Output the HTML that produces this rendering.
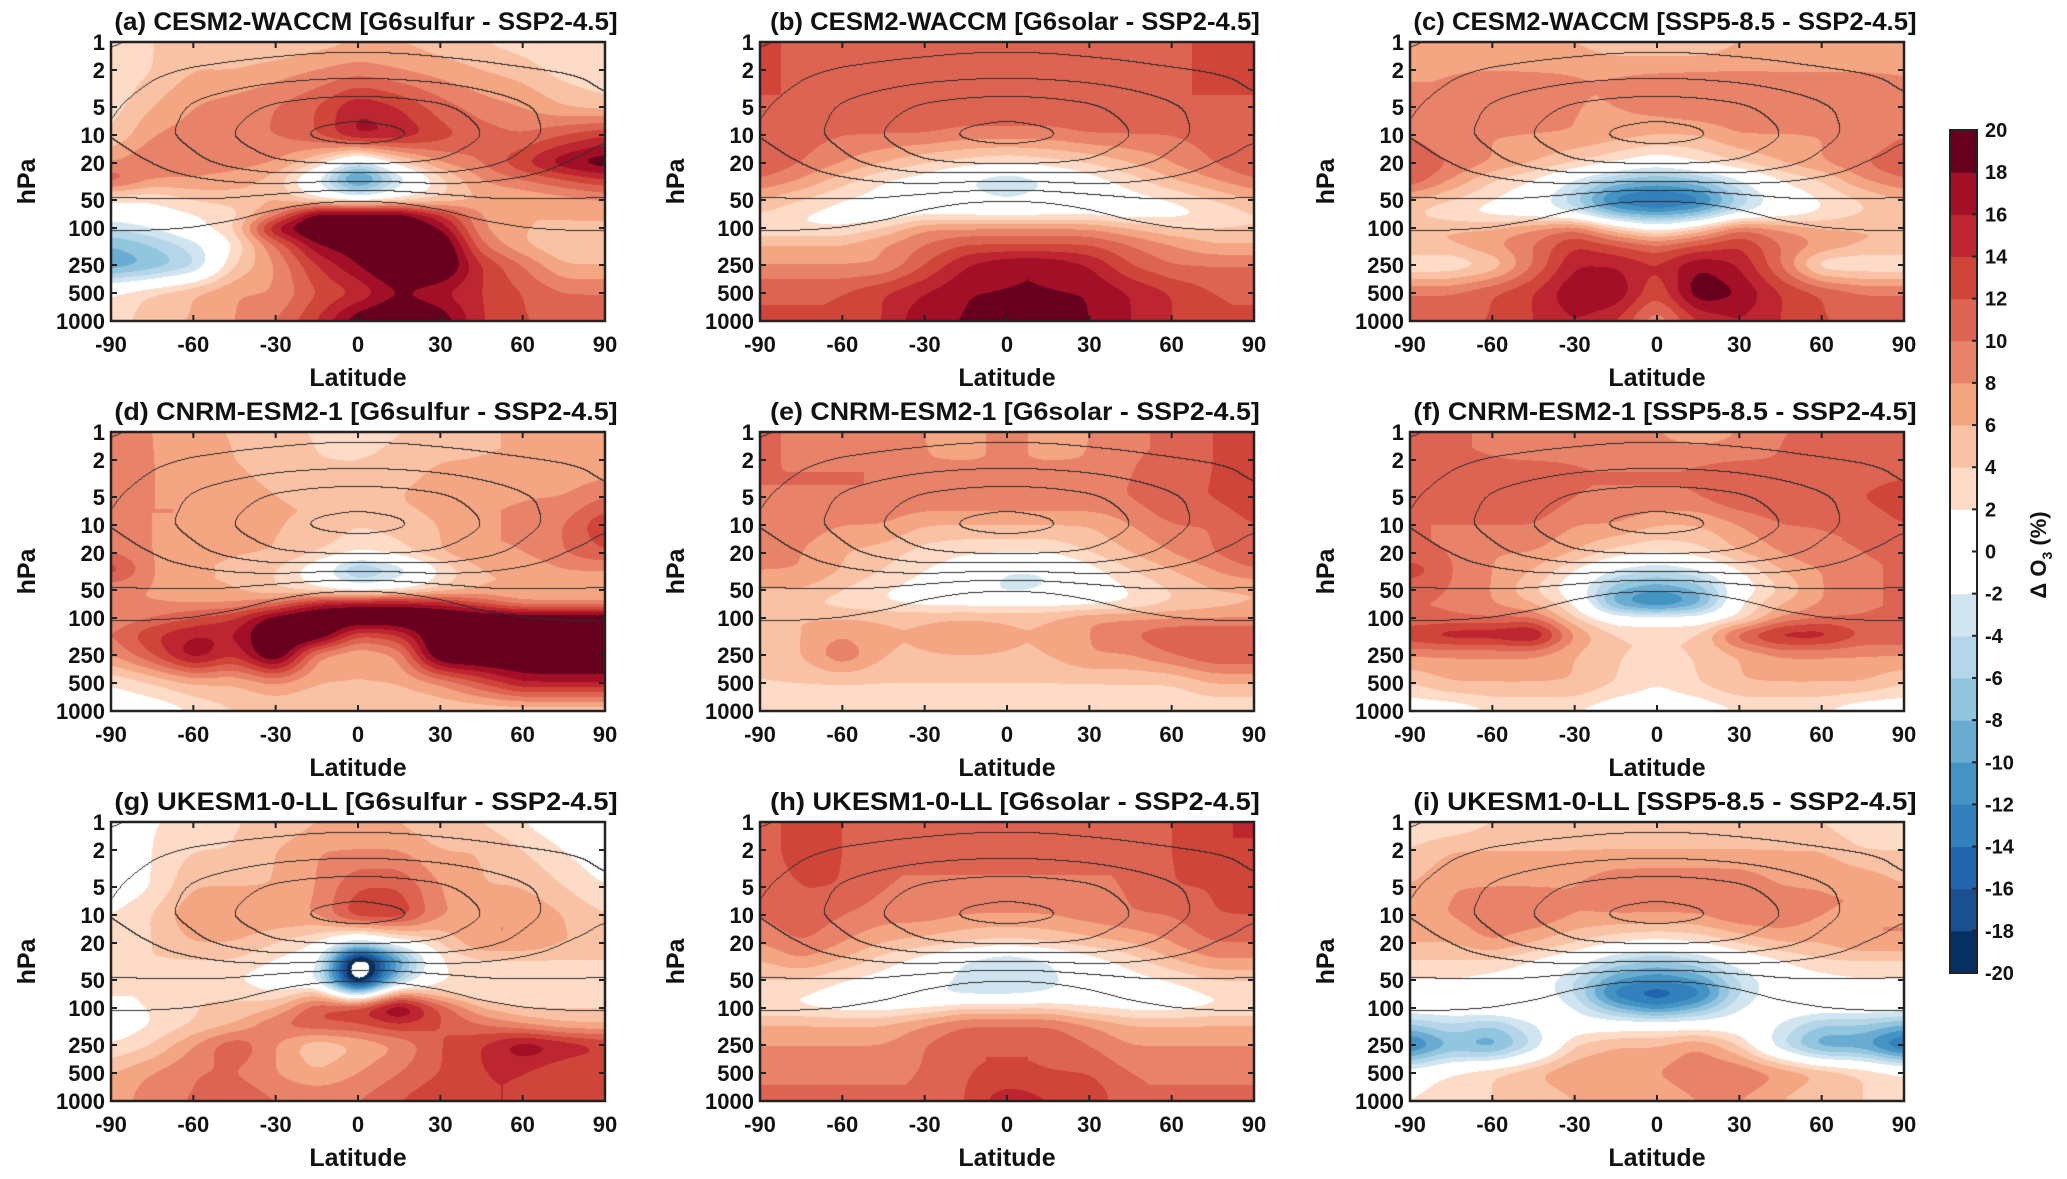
<!DOCTYPE html>
<html><head><meta charset="utf-8">
<style>
html,body{margin:0;padding:0;background:#fff;}
#wrap{position:relative;width:2067px;height:1179px;overflow:hidden;background:#fff;}
canvas{position:absolute;}
svg{position:absolute;left:0;top:0;}
text{font-family:"Liberation Sans",Arial,sans-serif;font-weight:bold;fill:#111;}
</style></head>
<body>
<div id="wrap">
<svg id="svg" width="2067" height="1179"></svg>
</div>
<script>
// ---- axes data ----
const lats = [-90,-75,-60,-45,-30,-15,0,15,30,45,60,75,90];
const levels = [1,2,5,10,20,30,50,70,100,150,250,500,1000];
const yTicks = [1,2,5,10,20,50,100,250,500,1000];
const xTicks = [-90,-60,-30,0,30,60,90];
const cbTicks = [20,18,16,14,12,10,8,6,4,2,0,-2,-4,-6,-8,-10,-12,-14,-16,-18,-20];
const contourStep = 1.5;
const titles = ["(a) CESM2-WACCM [G6sulfur - SSP2-4.5]","(b) CESM2-WACCM [G6solar - SSP2-4.5]","(c) CESM2-WACCM [SSP5-8.5 - SSP2-4.5]",
"(d) CNRM-ESM2-1 [G6sulfur - SSP2-4.5]","(e) CNRM-ESM2-1 [G6solar - SSP2-4.5]","(f) CNRM-ESM2-1 [SSP5-8.5 - SSP2-4.5]",
"(g) UKESM1-0-LL [G6sulfur - SSP2-4.5]","(h) UKESM1-0-LL [G6solar - SSP2-4.5]","(i) UKESM1-0-LL [SSP5-8.5 - SSP2-4.5]"];
// background ozone (ppm), rows = levels, cols = lats
const ozone = [
[2.8,3.2,3.5,3.8,3.9,4,4,4,3.9,3.8,3.5,3.2,3],
[3.5,4.2,4.6,4.8,5,5.2,5.3,5.2,5,4.8,4.6,4.4,4.2],
[4.3,5.2,6.2,7.0,7.8,8.2,8.4,8.2,7.8,7.0,6.2,5.5,4.6],
[4.5,5.5,6.5,7.6,8.6,9.3,9.6,9.3,8.6,7.6,6.5,5.5,4.6],
[3.8,4.5,5.6,6.6,7.4,7.8,7.9,7.8,7.4,6.6,5.6,4.5,4.0],
[3.4,3.8,4.3,4.8,5.2,5.0,4.8,5.0,5.2,4.8,4.3,3.8,3.5],
[3.0,3.0,3.0,2.8,2.2,1.6,1.4,1.6,2.2,2.8,3.0,3.0,3.0],
[2.2,2.1,2.0,1.8,1.2,0.8,0.7,0.8,1.2,1.8,2.0,2.1,2.2],
[1.6,1.6,1.5,1.2,0.8,0.5,0.4,0.5,0.8,1.2,1.5,1.6,1.6],
[1.0,1.0,0.9,0.7,0.4,0.3,0.2,0.3,0.4,0.7,0.9,1.0,1.0],
[0.3,0.3,0.3,0.3,0.3,0.3,0.3,0.3,0.3,0.3,0.3,0.3,0.3],
[0.1,0.1,0.1,0.1,0.1,0.1,0.1,0.1,0.1,0.1,0.1,0.1,0.1],
[0.05,0.05,0.05,0.05,0.05,0.05,0.05,0.05,0.05,0.05,0.05,0.05,0.05]];
// delta O3 (%) per panel
const dA = [
[2,4,5,4,4,5,6,6,5,4,3,2,2],[2,4,6,6,7,8,9,8,7,6,5,3,2],[3,6,8,9,10,12,16,14,11,9,8,6,5],
[4,8,9,10,10,12,17,16,13,11,10,12,14],[8,10,9,9,8,4,-4,3,8,10,14,18,20],[12,8,8,7,5,-2,-14,-4,3,8,10,12,14],
[2,2,4,5,6,2,0,2,4,6,6,7,8],[0,1,2,3,8,20,20,20,14,8,6,6,6],[-4,-2,1,4,18,22,22,22,18,8,6,6,6],
[-8,-6,-3,2,10,18,20,22,22,10,6,4,4],[-10,-8,-5,4,8,14,18,22,22,14,10,6,6],[2,4,6,8,8,12,14,18,16,14,12,10,10],
[2,6,6,8,10,14,20,22,20,14,12,12,12]];
const dB = [
[12,12,10,10,10,10,10,10,10,10,12,12,12],[12,12,11,10,10,10,10,10,10,10,12,12,12],[12,12,12,12,12,12,12,12,12,12,12,12,12],
[12,11,10,10,10,9,9,9,10,10,10,11,12],[12,10,8,6,4,3,2,3,4,6,8,10,12],[10,8,5,2,1,-2,-4,-2,1,3,6,8,10],
[6,4,2,1,0,-1,-2,-1,0,1,2,4,6],[4,2,1,0,1,1,1,1,1,0,1,2,4],[2,2,2,4,8,8,8,8,8,6,4,4,4],
[6,6,6,8,10,12,12,12,12,10,8,6,6],[8,8,8,8,12,16,18,18,16,12,10,10,10],[12,12,12,14,16,18,18,18,18,16,14,12,12],
[12,12,12,14,18,18,20,20,18,16,14,12,12]];
const dC = [
[6,6,6,6,6,4,4,4,6,6,6,6,6],[8,8,8,8,8,8,8,8,8,8,8,8,8],[8,8,10,9,8,8,9,10,10,9,9,9,8],
[10,8,8,8,8,7,6,6,8,8,8,8,10],[12,10,8,6,4,2,0,2,4,6,8,10,12],[12,8,4,2,-2,-6,-8,-6,-2,2,4,8,10],
[6,4,2,0,-6,-14,-16,-14,-6,0,2,4,6],[4,2,1,0,-2,-8,-10,-8,-2,0,2,4,4],[6,6,6,8,10,4,0,4,10,8,6,6,6],
[6,6,8,10,14,12,10,12,14,10,8,6,6],[2,2,4,10,16,16,14,18,16,10,2,2,2],[10,10,12,14,18,18,12,20,18,14,12,10,10],
[12,12,12,14,16,14,8,14,16,14,12,12,12]];
const dD = [
[10,8,6,6,4,4,2,4,4,6,6,6,6],[10,8,7,6,5,4,4,5,6,6,6,6,6],[8,8,8,7,6,6,5,6,7,8,8,8,10],
[8,8,8,8,6,6,4,5,6,8,8,10,14],[10,8,6,6,6,4,2,3,6,8,8,10,12],[14,8,6,6,4,0,-8,-4,2,6,6,8,8],
[8,8,6,6,4,2,0,1,4,6,6,6,6],[8,8,8,8,10,16,18,18,16,12,8,8,8],[8,10,12,14,20,22,22,22,22,22,22,22,22],
[10,14,16,16,22,22,12,14,22,22,22,22,22],[8,12,18,14,22,8,6,8,22,22,22,22,22],[2,4,6,6,8,6,6,6,8,12,16,16,16],
[0,0,2,4,4,4,4,4,4,4,4,4,4]];
const dE = [
[10,10,8,10,8,6,10,6,8,10,10,12,14],[10,10,10,10,8,8,8,8,8,10,10,12,14],[10,10,10,10,10,10,10,10,10,10,12,12,14],
[8,9,8,8,6,6,6,6,6,8,10,10,12],[10,8,6,5,3,2,2,2,4,6,8,10,12],[8,8,6,4,2,1,-2,-2,1,4,6,8,10],
[6,6,4,2,1,0,-3,-2,0,2,4,6,6],[4,4,3,2,1,1,1,1,1,2,4,5,6],[6,6,6,6,6,6,6,6,8,8,8,8,8],
[4,6,8,6,6,8,6,6,8,10,12,12,12],[4,6,10,6,6,6,6,6,8,8,10,12,12],[4,4,4,4,4,4,4,4,4,4,4,6,6],
[2,2,2,2,2,2,2,2,2,2,2,2,2]];
const dF = [
[12,10,10,8,8,10,8,6,8,10,10,10,10],[12,10,10,10,10,10,10,10,10,10,12,10,10],[10,10,12,12,10,10,10,10,12,12,12,12,14],
[10,10,10,10,8,8,6,6,8,10,10,10,12],[10,10,8,8,6,3,2,3,6,8,10,10,10],[14,10,8,6,2,-2,-4,-2,2,6,8,10,10],
[10,10,8,4,0,-8,-10,-8,0,4,8,10,10],[10,10,8,6,2,-10,-14,-10,2,6,8,10,10],[10,10,10,10,4,0,0,0,2,8,10,10,10],
[14,16,16,18,8,4,4,4,12,16,16,12,12],[8,8,8,8,6,4,4,4,6,8,8,8,8],[4,6,6,6,6,4,2,4,6,6,6,6,4],
[0,0,2,2,2,0,0,0,2,2,2,0,0]];
const dG = [
[0,2,2,4,4,6,6,6,4,4,2,0,-2],[0,2,4,4,6,8,8,8,6,6,4,2,0],[0,2,6,6,6,8,12,12,8,6,6,4,2],
[2,4,8,8,8,8,14,14,8,8,8,6,4],[2,4,6,6,4,2,-4,0,4,8,8,6,6],[4,4,4,4,2,0,-25,-10,2,4,4,4,4],
[2,2,2,2,0,-2,-25,-6,2,2,2,2,2],[2,2,4,4,2,6,-6,8,4,2,2,2,2],[2,2,4,4,6,12,14,20,12,6,4,4,4],
[0,2,4,6,10,12,12,14,12,10,8,6,6],[2,4,8,12,8,4,6,8,12,14,18,16,14],[6,8,10,10,8,6,8,10,12,14,14,12,12],
[6,10,10,12,10,10,10,12,14,14,14,12,12]];
const dH = [
[10,14,12,10,10,10,10,10,10,10,12,14,14],[10,14,12,10,10,10,10,10,10,10,12,14,14],[10,12,12,10,10,10,10,10,10,10,12,12,14],
[10,12,10,9,9,8,8,8,9,10,10,12,12],[8,10,8,6,5,4,3,4,5,6,8,10,10],[6,8,6,3,1,-2,-4,-2,1,3,6,8,8],
[4,4,2,1,0,-3,-4,-3,0,1,2,4,4],[2,2,1,0,-2,-3,-3,-2,0,1,1,2,2],[2,2,1,1,2,4,4,4,2,1,1,2,2],
[6,6,6,6,8,10,10,10,8,6,6,6,6],[8,8,8,8,10,12,12,12,10,8,8,8,8],[10,10,10,10,10,12,12,12,12,10,10,10,10],
[10,10,10,10,10,12,16,14,14,10,10,10,10]];
const dI = [
[2,2,4,4,4,4,4,4,4,4,4,2,2],[4,6,6,6,6,6,6,6,6,6,6,4,4],[6,8,8,8,8,10,10,10,10,8,8,8,6],
[8,8,10,10,8,8,8,8,10,10,8,8,8],[6,6,8,6,4,2,1,2,4,6,6,8,8],[4,4,4,2,0,-4,-6,-4,0,2,4,4,4],
[2,2,1,0,-4,-10,-12,-10,-4,0,1,2,2],[0,0,1,0,-4,-14,-16,-14,-4,0,0,0,0],[0,0,1,1,-2,-8,-12,-8,-2,0,0,0,0],
[-6,-4,-6,-2,0,0,0,0,0,-2,-6,-6,-8],[-14,-8,-10,-4,4,6,6,8,4,-4,-10,-10,-16],[0,2,4,6,8,8,8,10,10,8,6,4,2],
[2,4,4,4,6,6,6,8,8,6,4,4,4]];
const panelsData = [dA,dB,dC,dD,dE,dF,dG,dH,dI];
const palette = ['#053061','#1b4f8f','#2166ac','#3281bd','#4393c3','#6aabd2','#92c5de','#b4d6e8','#d1e5f0','#ffffff','#ffffff','#fddbc7','#f9c2a5','#f4a582','#e8836a','#dd6452','#d04539','#bd2630','#a30f26','#67001f'];

// ---- layout ----
const colX = [111,760,1410], rowY = [42,432,822], PW = 494, PH = 279;
const svg = document.getElementById('svg');
const NS = 'http://www.w3.org/2000/svg';
function mk(tag, attrs, parent){const e=document.createElementNS(NS,tag);for(const k in attrs)e.setAttribute(k,attrs[k]);(parent||svg).appendChild(e);return e;}
const logMax = Math.log10(1000);
function yScale(p, y0){return y0 + Math.log10(p)/logMax*PH;}
function xScale(lat, x0){return x0 + (lat+90)/180*PW;}
function hex(c){return [parseInt(c.slice(1,3),16),parseInt(c.slice(3,5),16),parseInt(c.slice(5,7),16)];}
const palRGB = palette.map(hex);
const logLev = levels.map(p=>Math.log10(p));
function interp(grid, lat, lp){
  let i=0; while(i<lats.length-2 && lat>lats[i+1]) i++;
  let j=0; while(j<levels.length-2 && lp>logLev[j+1]) j++;
  const tx=(lat-lats[i])/(lats[i+1]-lats[i]); const ty=(lp-logLev[j])/(logLev[j+1]-logLev[j]);
  const a=grid[j][i],b=grid[j][i+1],c=grid[j+1][i],d=grid[j+1][i+1];
  return (a*(1-tx)+b*tx)*(1-ty)+(c*(1-tx)+d*tx)*ty;
}
function bin(v){ if(v<-20) return -1; let k=Math.floor((v+20)/2); return Math.max(0,Math.min(19,k)); }
function field(grid){
  const f=new Float32Array(PW*PH);
  for(let y=0;y<PH;y++){const lp=(y+0.5)/PH*logMax;for(let x=0;x<PW;x++){f[y*PW+x]=interp(grid,-90+(x+0.5)/PW*180,lp);}}
  return f;
}
function boxBlur(f, rx, ry){
  const t=new Float32Array(PW*PH);
  for(let y=0;y<PH;y++){for(let x=0;x<PW;x++){let s=0,n=0;for(let k=-rx;k<=rx;k++){const xx=Math.min(PW-1,Math.max(0,x+k));s+=f[y*PW+xx];n++;}t[y*PW+x]=s/n;}}
  const o=new Float32Array(PW*PH);
  for(let y=0;y<PH;y++){for(let x=0;x<PW;x++){let s=0,n=0;for(let k=-ry;k<=ry;k++){const yy=Math.min(PH-1,Math.max(0,y+k));s+=t[yy*PW+x];n++;}o[y*PW+x]=s/n;}}
  return o;
}
function smooth(f){return boxBlur(boxBlur(f,10,6),10,6);}

// ozone contour index per pixel (same for all panels)
const ozF = smooth(field(ozone));
const ozIdx = new Int16Array(PW*PH);
for(let k=0;k<PW*PH;k++) ozIdx[k]=Math.floor(ozF[k]/contourStep);

const wrap = document.getElementById('wrap');
panelsData.forEach((grid, n)=>{
  const r=Math.floor(n/3), c=n%3, x0=colX[c], y0=rowY[r];
  const cv=document.createElement('canvas'); cv.width=PW; cv.height=PH;
  cv.style.left=x0+'px'; cv.style.top=y0+'px';
  
  
  wrap.insertBefore(cv, svg);
  const ctx=cv.getContext('2d'); const img=ctx.createImageData(PW,PH);
  const F=smooth(field(grid));
  for(let y=0;y<PH;y++){for(let x=0;x<PW;x++){
    const o=y*PW+x; const k=bin(F[o]);
    let col = k<0?[255,255,255]:palRGB[k];
    const oi=ozIdx[o];
    if(oi>=1 && ((x<PW-1 && ozIdx[o+1]!==oi) || (y<PH-1 && ozIdx[o+PW]!==oi))) col=[45,45,45];
    img.data[o*4]=col[0];img.data[o*4+1]=col[1];img.data[o*4+2]=col[2];img.data[o*4+3]=255;
  }}
  ctx.putImageData(img,0,0);

  const g=mk('g',{});
  
  
  const t=mk('text',{x:x0+PW/2+8,y:y0-12,'text-anchor':'middle','font-size':25,textLength:titles[n].length*13.6,lengthAdjust:'spacingAndGlyphs'},g);
  t.textContent=titles[n];
  
  
  const box=mk('rect',{x:x0,y:y0,width:PW,height:PH,fill:'none',stroke:'#222','stroke-width':2.5},g);
  
  
  yTicks.forEach(p=>{
    const yy=yScale(p,y0);
    mk('line',{x1:x0,x2:x0+6,y1:yy,y2:yy,stroke:'#222','stroke-width':2},g);
    mk('line',{x1:x0+PW-6,x2:x0+PW,y1:yy,y2:yy,stroke:'#222','stroke-width':2},g);
    const tl=mk('text',{x:x0-6,y:yy+8,'text-anchor':'end','font-size':22},g);
    tl.textContent=p;
    
    
  });
  xTicks.forEach(l=>{
    const xx=xScale(l,x0);
    mk('line',{x1:xx,x2:xx,y1:y0+PH,y2:y0+PH-6,stroke:'#222','stroke-width':2},g);
    mk('line',{x1:xx,x2:xx,y1:y0,y2:y0+6,stroke:'#222','stroke-width':2},g);
    const tl=mk('text',{x:xx,y:y0+PH+31,'text-anchor':'middle','font-size':22},g);
    tl.textContent=l;
    
    
  });
  const xl=mk('text',{x:x0+PW/2,y:y0+PH+65,'text-anchor':'middle','font-size':25},g);
  xl.textContent='Latitude';
  
  
  const yl=mk('text',{x:0,y:0,'text-anchor':'middle','font-size':25,transform:`translate(${x0-76},${y0+PH/2}) rotate(-90)`},g);
  yl.textContent='hPa';
  
  
});

// colorbar
const cbX=1950, cbY=130, cbW=27, cbH=843;
const cb=mk('g',{});


const bandH=cbH/palette.length;
palette.forEach((col,k)=>{
  const rr=mk('rect',{x:cbX,y:cbY+cbH-(k+1)*bandH,width:cbW,height:bandH+0.5,fill:col},cb);
  
  
});
mk('rect',{x:cbX,y:cbY,width:cbW,height:cbH,fill:'none',stroke:'#222','stroke-width':2},cb);
cbTicks.forEach(v=>{
  const yy=cbY+(20-v)/40*cbH;
  mk('line',{x1:cbX+cbW-5,x2:cbX+cbW,y1:yy,y2:yy,stroke:'#222','stroke-width':2},cb);
  const tl=mk('text',{x:cbX+cbW+8,y:yy+7,'font-size':20},cb);
  tl.textContent=v;
  
  
});
const cl=mk('text',{x:0,y:0,'text-anchor':'middle','font-size':22,transform:'translate(2046,555) rotate(-90)'},cb);
cl.innerHTML='Δ O<tspan font-size="14" dy="6">3</tspan><tspan dy="-6"> (%)</tspan>';


</script>
</body></html>
